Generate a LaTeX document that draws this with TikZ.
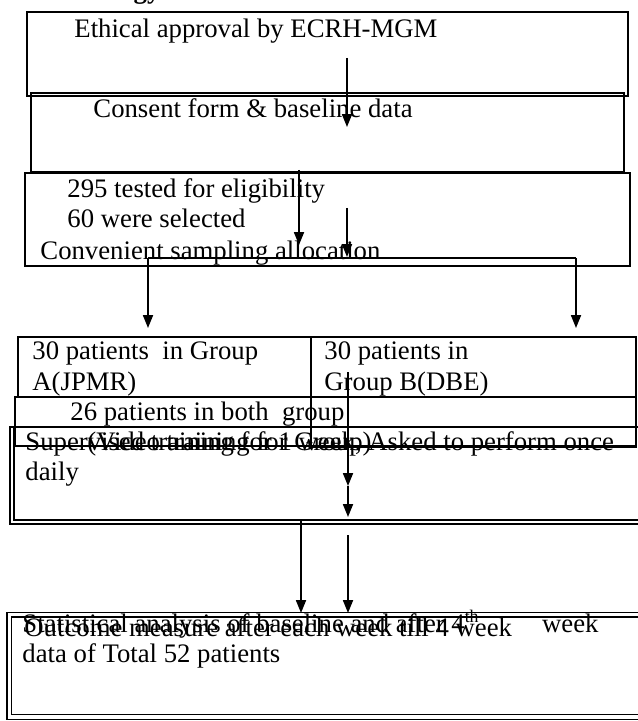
\documentclass[tikz,border=0pt]{standalone}
\usepackage{fontspec}
\setmainfont{Liberation Serif}
\usetikzlibrary{arrows.meta,calc}
\newcommand{\pxu}{0.449pt}
\tikzset{
	flowbox/.style={draw=black, line width=0.75pt, inner sep=0pt, outer sep=0pt,
		anchor=north west},
	dflowbox/.style={flowbox, line width=0.6pt, double, double distance=1.5pt},
	ftxt/.style={anchor=base west, inner sep=0pt, font=\fontsize{12}{14}\selectfont},
	farr/.style={-{Triangle[length=5.8pt,width=4.5pt]}, line width=0.75pt},
	fline/.style={line width=0.45pt},
}
\begin{document}
\begin{tikzpicture}[x=\pxu, y=-\pxu]
	\useasboundingbox (0,0) rectangle (637,721);

	% Boxes (top to bottom)
	\node[flowbox, minimum width=601*\pxu, minimum height=84*\pxu]  at (27,12)   (ethic)   {};
	\node[flowbox, minimum width=593*\pxu, minimum height=79*\pxu]  at (31,93)   (consent) {};
	\node[flowbox, minimum width=605*\pxu, minimum height=93*\pxu]  at (25,173)  (elig)    {};
	\node[flowbox, minimum width=293*\pxu, minimum height=60*\pxu]  at (18,337)  (grpA)    {};
	\node[flowbox, minimum width=325*\pxu, minimum height=110*\pxu] at (311,337) (grpB)    {};
	\node[flowbox, minimum width=621*\pxu, minimum height=49*\pxu]  at (15,397)  (both)    {};
	\node[flowbox, minimum width=640*\pxu, minimum height=97*\pxu]  at (10,427)  (superv)  {};
	\node[dflowbox, minimum width=634*\pxu, minimum height=102.5*\pxu] at (9.3,614.5) (stats) {};
	\draw[line width=0.75pt] ($(superv.north west)+(4,0)$) |- ($(superv.south east)+(0,-4)$);

	% Texts
	\node[ftxt, font=\bfseries\fontsize{12}{14}\selectfont] at (10,-1) (head) {Methodology};
	\node[ftxt] at (74,37.5) (tEthic)   {Ethical approval by ECRH-MGM};
	\node[ftxt] at (93,118)  (tConsent) {Consent form \& baseline data};
	\node[ftxt] at (67,198)  (tTested)  {295 tested for eligibility};
	\node[ftxt] at (67,228)  (tSel)     {60 were selected};
	\node[ftxt] at (40,260)  (tConv)    {Convenient sampling allocation};
	\node[ftxt] at (32,359)  (tA1)      {30 patients\ \ in Group};
	\node[ftxt] at (32,390)  (tA2)      {A(JPMR)};
	\node[ftxt] at (324,359) (tB1)      {30 patients in};
	\node[ftxt] at (324,390) (tB2)      {Group B(DBE)};
	\node[ftxt] at (70,420)  (tBoth)    {26 patients in both\ \ group};
	\node[ftxt] at (25,450)  (tSup)     {Supervised training for 1 week, Asked to perform once};
	\node[ftxt] at (87,450)  (tVideo)   {(Video training for Group)};
	\node[ftxt] at (25,480)  (tDaily)   {daily};
	\node[ftxt] at (22,632)  (tStat)    {Statistical analysis of baseline and after 4\textsuperscript{th}\hspace{28pt}week};
	\node[ftxt] at (24,636)  (tOut)     {Outcome measure after each week till 4 week};
	\node[ftxt] at (22,662)  (tData)    {data of Total 52 patients};

	% Arrow ends
	\coordinate (a1s) at (347,58);   \coordinate (a1e) at (347,127);
	\coordinate (a2s) at (299,170);  \coordinate (a2e) at (299,245);
	\coordinate (a3s) at (347,208);  \coordinate (a3e) at (347,257);
	\coordinate (brL) at (148,258);  \coordinate (tipL) at (148,328);
	\coordinate (brR) at (576,258);  \coordinate (tipR) at (576,328);
	\coordinate (a4s) at (348,372);  \coordinate (a4e) at (348,486);
	\coordinate (a5e) at (348,517);
	\coordinate (a6s) at (301,519);  \coordinate (a6e) at (301,613);
	\coordinate (a7s) at (348,535);  \coordinate (a7e) at (348,613);

	% Arrows
	\draw[farr] (a1s) -- (a1e);
	\draw[farr] (a2s) -- (a2e);
	\draw[farr] (a3s) -- (a3e);
	\draw[fline] (brL) -- (brR);
	\draw[farr] (brL) -- (tipL);
	\draw[farr] (brR) -- (tipR);
	\draw[farr] (a4s) -- (a4e);
	\draw[farr] (a4e) -- (a5e);
	\draw[farr] (a6s) -- (a6e);
	\draw[farr] (a7s) -- (a7e);
\end{tikzpicture}
\end{document}
